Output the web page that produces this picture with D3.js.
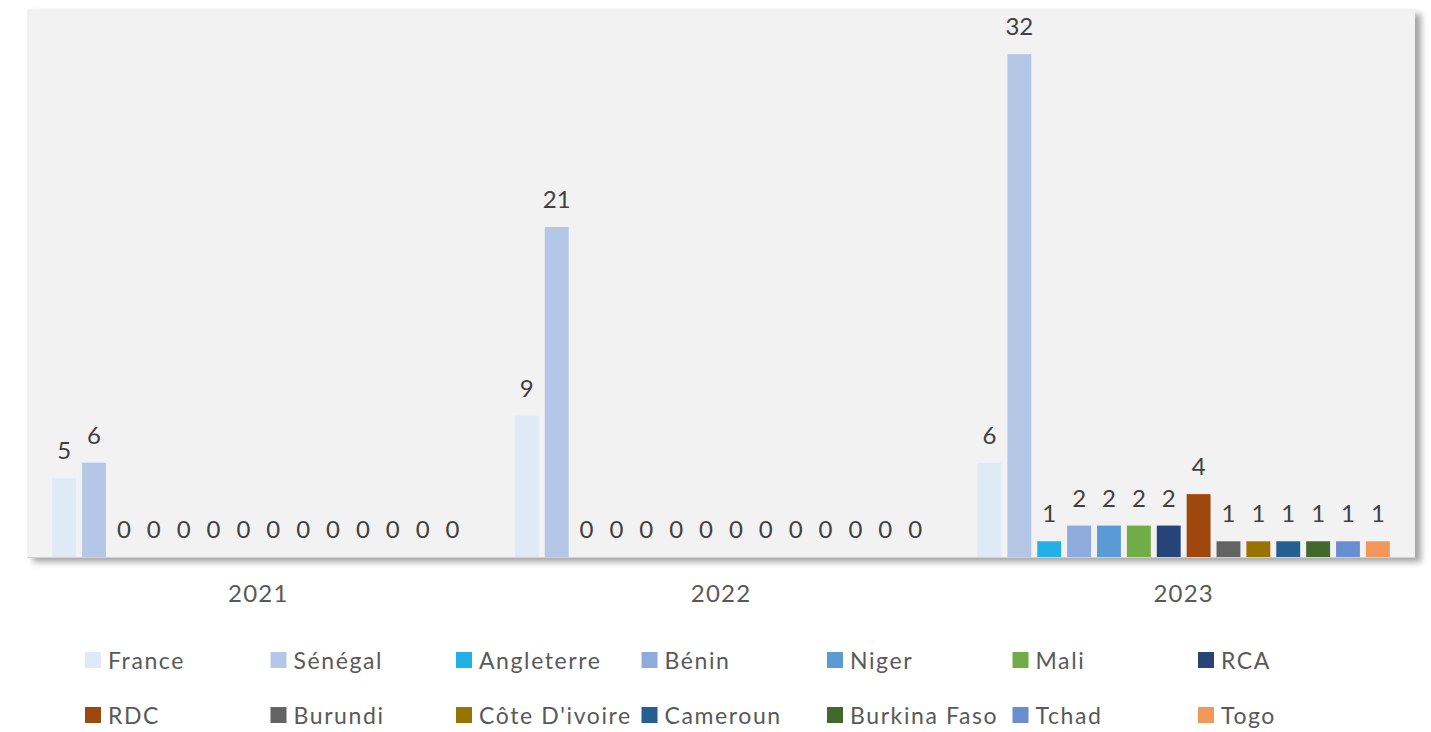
<!DOCTYPE html>
<html>
<head>
<meta charset="utf-8">
<script src="https://cdn.jsdelivr.net/npm/d3@7"></script>
<style>
  body { margin: 0; background: #fff; }
  text { font-family: Lato, "Open Sans", sans-serif; }
</style>
</head>
<body>
<div id="chart"></div>
<script>
/** --- DATA --- */
const years = ['2021', '2022', '2023'];
const countries = ['France', 'Sénégal', 'Angleterre', 'Bénin', 'Niger', 'Mali', 'RCA',
  'RDC', 'Burundi', "Côte D'ivoire", 'Cameroun', 'Burkina Faso', 'Tchad', 'Togo'];
const values2021 = [5, 6, 0, 0, 0, 0, 0, 0, 0, 0, 0, 0, 0, 0];
const values2022 = [9, 21, 0, 0, 0, 0, 0, 0, 0, 0, 0, 0, 0, 0];
const values2023 = [6, 32, 1, 2, 2, 2, 2, 4, 1, 1, 1, 1, 1, 1];
const colors = ['#deebf7', '#b4c7e7', '#23b0e6', '#8faadc', '#5b9bd5', '#70ad47', '#264478',
  '#9e480e', '#636363', '#997300', '#255e91', '#43682b', '#698ed0', '#f1975a'];

const byYear = { '2021': values2021, '2022': values2022, '2023': values2023 };

/** --- DIMENSIONS --- */
const width = 1431;
const height = 732;
const plot = { left: 27, right: 1415, top: 9, bottom: 557 };

const svg = d3.select('#chart').append('svg')
  .attr('width', width)
  .attr('height', height);

const defs = svg.append('defs');
const shadow = defs.append('filter')
  .attr('id', 'shadow')
  .attr('x', '-5%').attr('y', '-5%')
  .attr('width', '110%').attr('height', '115%');
shadow.append('feDropShadow')
  .attr('dx', 6).attr('dy', 5)
  .attr('stdDeviation', 3)
  .attr('flood-color', '#8c8c8c')
  .attr('flood-opacity', 0.8);

/** --- SCALES --- */
const x0 = d3.scaleBand()
  .domain(years)
  .range([plot.left, plot.right])
  .paddingInner(0.096)
  .paddingOuter(0.048);

const x1 = d3.scaleBand()
  .domain(countries)
  .range([0, x0.bandwidth()])
  .paddingInner(0.2)
  .paddingOuter(0.1);

const y = d3.scaleLinear()
  .domain([0, 35])
  .range([plot.bottom, 7]);

const color = d3.scaleOrdinal()
  .domain(countries)
  .range(colors);

/** --- PLOT AREA --- */
svg.append('rect')
  .attr('x', plot.left)
  .attr('y', plot.top)
  .attr('width', plot.right - plot.left)
  .attr('height', plot.bottom - plot.top)
  .attr('fill', '#f2f2f2')
  .attr('filter', 'url(#shadow)');

svg.append('line')
  .attr('x1', plot.left).attr('x2', plot.right)
  .attr('y1', plot.bottom + 0.5).attr('y2', plot.bottom + 0.5)
  .attr('stroke', '#d0d0d0');

/** --- BARS --- */
const groups = svg.selectAll('g.year')
  .data(years)
  .join('g')
  .attr('class', 'year')
  .attr('transform', d => `translate(${x0(d)},0)`);

const cells = groups.selectAll('g.cell')
  .data(yr => countries.map((c, i) => ({ country: c, value: byYear[yr][i] })))
  .join('g')
  .attr('class', 'cell');

cells.append('rect')
  .attr('x', d => x1(d.country))
  .attr('y', d => y(d.value))
  .attr('width', x1.bandwidth())
  .attr('height', d => y(0) - y(d.value))
  .attr('fill', d => color(d.country));

cells.append('text')
  .attr('x', d => x1(d.country) + x1.bandwidth() / 2)
  .attr('y', d => y(d.value) - 19)
  .attr('text-anchor', 'middle')
  .attr('font-size', 24)
  .attr('fill', '#404040')
  .text(d => d.value);

/** --- X AXIS --- */
const xAxis = svg.append('g')
  .attr('transform', `translate(0,${plot.bottom})`)
  .call(d3.axisBottom(x0).tickSize(0).tickPadding(28));
xAxis.select('.domain').remove();
xAxis.selectAll('text')
  .attr('font-size', 24)
  .attr('letter-spacing', '1.2px')
  .attr('fill', '#595959')
  .attr('font-family', 'Lato, "Open Sans", sans-serif');

/** --- LEGEND --- */
const colStep = 185.5;
const legend = svg.append('g')
  .attr('transform', 'translate(85,652)');

const items = legend.selectAll('g.item')
  .data(countries)
  .join('g')
  .attr('class', 'item')
  .attr('transform', (d, i) => `translate(${(i % 7) * colStep},${Math.floor(i / 7) * 55})`);

items.append('rect')
  .attr('width', 16)
  .attr('height', 16)
  .attr('fill', d => color(d));

items.append('text')
  .attr('x', 23)
  .attr('y', 17)
  .attr('font-size', 23)
  .attr('letter-spacing', '1.6px')
  .attr('fill', '#595959')
  .text(d => d);
</script>
</body>
</html>
